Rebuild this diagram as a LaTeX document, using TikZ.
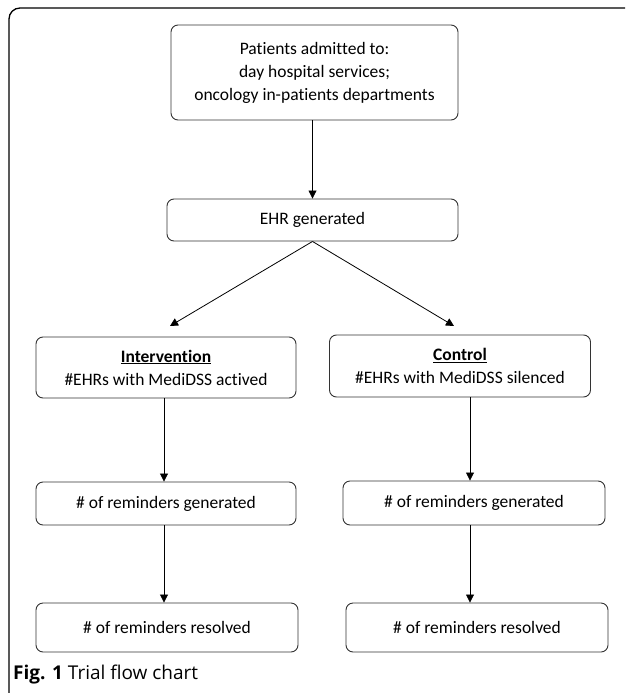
\documentclass[tikz,border=0pt]{standalone}
\usepackage{fontspec}
\setmainfont[Ligatures=NoCommon]{Carlito}
\newfontfamily\capfont{Open Sans}
\usetikzlibrary{arrows.meta}

\begin{document}
\begin{tikzpicture}[x=1pt,y=-1pt,
  box/.style={draw=black!80, line width=0.9pt, rounded corners=7pt,
    align=center, inner sep=0pt, font=\fontsize{17.5}{23}\selectfont},
  arr/.style={-{Triangle[length=8pt,width=8pt]}, line width=0.8pt}]
  \useasboundingbox (0,0) rectangle (625,693);
  \draw[line width=1.3pt, rounded corners=11pt] (9,693) -- (9,8) -- (625,8);

  \node[box, minimum width=287pt, minimum height=95pt] (pat) at (314.5,72.5)
    {Patients admitted to:\\day hospital services;\\oncology in-patients departments};
  \node[box, minimum width=291pt, minimum height=42pt] (ehr) at (312.5,220) {EHR generated};
  \node[box, minimum width=260pt, minimum height=61pt] (int) at (166,367.5)
    {\underline{\textbf{Intervention}}\\\#EHRs with MediDSS actived};
  \node[box, minimum width=261pt, minimum height=62pt] (ctl) at (460,366)
    {\underline{\textbf{Control}}\\\#EHRs with MediDSS silenced};
  \node[box, minimum width=260pt, minimum height=43pt] (gen1) at (166,503.5) {\# of reminders generated};
  \node[box, minimum width=262pt, minimum height=44pt] (gen2) at (474,503) {\# of reminders generated};
  \node[box, minimum width=262pt, minimum height=49pt] (res1) at (167,627.5) {\# of reminders resolved};
  \node[box, minimum width=262pt, minimum height=49pt] (res2) at (477,627.5) {\# of reminders resolved};

  \coordinate (lt) at (170,326);
  \coordinate (rt) at (454,326);
  \coordinate (lx) at (164,0);
  \coordinate (rx) at (470,0);

  \draw[arr] (ehr.north |- pat.south) -- (ehr.north);
  \draw[arr] (ehr.south) -- (lt);
  \draw[arr] (ehr.south) -- (rt);
  \draw[arr] (int.south -| lx) -- (gen1.north -| lx);
  \draw[arr] (gen1.south -| lx) -- (res1.north -| lx);
  \draw[arr] (ctl.south -| rx) -- (gen2.north -| rx);
  \draw[arr] (gen2.south -| rx) -- (res2.north -| rx);

  \node[anchor=base west, inner sep=0pt, font=\capfont\fontsize{19}{21}\selectfont] (cap) at (13,679)
    {\textbf{Fig. 1} Trial flow chart};
\end{tikzpicture}
\end{document}
